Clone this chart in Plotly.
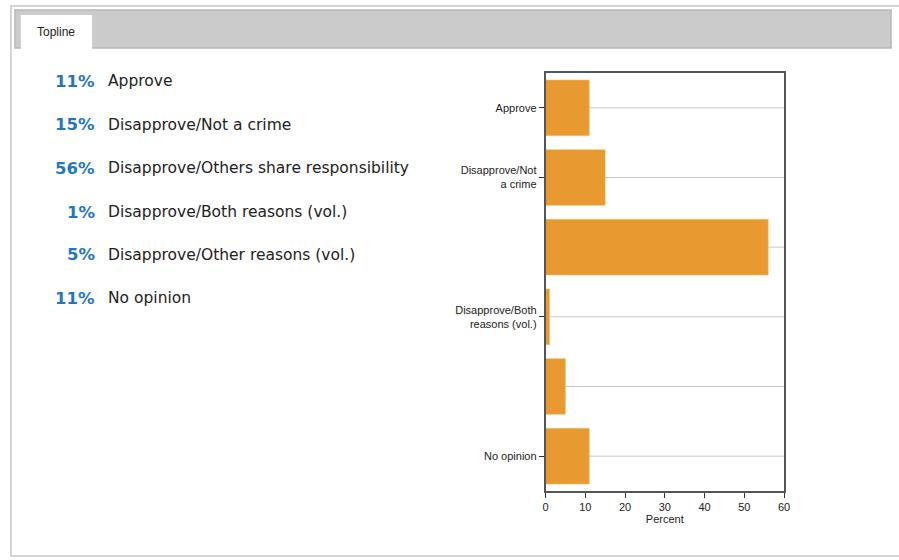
import plotly.graph_objects as go

categories = ["Approve", "Disapprove/Not a crime", "Disapprove/Others share responsibility",
              "Disapprove/Both reasons (vol.)", "Disapprove/Other reasons (vol.)", "No opinion"]
values = [11, 15, 56, 1, 5, 11]
percent_labels = ["11%", "15%", "56%", "1%", "5%", "11%"]
axis_labels = ["Approve", "Disapprove/Not<br>a crime", "", "Disapprove/Both<br>reasons (vol.)", "", "No opinion"]
x_ticks = [0, 10, 20, 30, 40, 50, 60]

W, H = 899, 560
def px(x): return x / W
def py(y): return 1 - y / H

fig = go.Figure()
fig.add_trace(go.Bar(
    x=values, y=categories, orientation="h",
    marker=dict(color="#E8992F", line=dict(color="#F2C070", width=0.6)),
    hoverinfo="x+y",
))

shown = [(c, t) for c, t in zip(categories, axis_labels) if t]
shapes = []
shapes.append(dict(type="rect", xref="paper", yref="paper", x0=px(8), x1=px(910), y0=py(6), y1=py(556),
                   line=dict(color="#c8c8c8", width=1.5), fillcolor="white", layer="below"))
shapes.append(dict(type="rect", xref="paper", yref="paper", x0=px(12), x1=px(897), y0=py(10), y1=py(48),
                   line=dict(color="#b8b8b8", width=1.5), fillcolor="#cbcbcb", layer="below"))
shapes.append(dict(type="rect", xref="paper", yref="paper", x0=px(18), x1=px(90), y0=py(15), y1=py(49),
                   line=dict(color="white", width=0), fillcolor="white", layer="below"))
for c in categories:
    shapes.append(dict(type="line", xref="x domain", yref="y", x0=0, x1=1, y0=c, y1=c,
                       line=dict(color="#c8c8c8", width=1), layer="below"))

annotations = [dict(text="Topline", xref="paper", yref="paper", x=px(54), y=py(32), showarrow=False,
                    font=dict(family="Liberation Sans, Arial", size=12, color="#222"),
                    xanchor="center", yanchor="middle")]
row_y = [81, 125, 168, 212, 255, 298]
for p, c, yy in zip(percent_labels, categories, row_y):
    annotations.append(dict(text="<b>" + p + "</b>", xref="paper", yref="paper", x=px(95), y=py(yy),
                            showarrow=False, xanchor="right", yanchor="middle",
                            font=dict(family="DejaVu Sans", size=16.5, color="#1F77C4")))
    annotations.append(dict(text=c, xref="paper", yref="paper", x=px(104), y=py(yy),
                            showarrow=False, xanchor="left", yanchor="middle",
                            font=dict(family="DejaVu Sans", size=15.5, color="#222")))

tickfont = dict(family="Liberation Sans, Arial", size=11, color="#222")
fig.update_layout(
    width=W, height=H, margin=dict(l=0, r=0, t=0, b=0),
    paper_bgcolor="white", plot_bgcolor="rgba(0,0,0,0)",
    showlegend=False, bargap=0.2,
    shapes=shapes, annotations=annotations,
    xaxis=dict(domain=[px(548), px(789)], range=[0, 60], tickvals=x_ticks, ticks="outside",
               ticklen=5, tickcolor="#333", showgrid=False, zeroline=False, showline=True,
               linecolor="#555", linewidth=1.5, mirror=True, tickfont=tickfont,
               title=dict(text="Percent", font=tickfont, standoff=3)),
    yaxis=dict(domain=[py(491), py(73)], categoryorder="array", categoryarray=categories,
               autorange="reversed", tickvals=[c for c, _ in shown], ticktext=[t for _, t in shown],
               ticks="outside", ticklen=5, tickcolor="#333", showgrid=False, showline=True,
               linecolor="#555", linewidth=1.5, mirror=True, tickfont=tickfont),
)
fig.write_html("out.html", config={"displayModeBar": False},
               post_script="document.body.style.margin='0';document.body.style.overflow='hidden';")
